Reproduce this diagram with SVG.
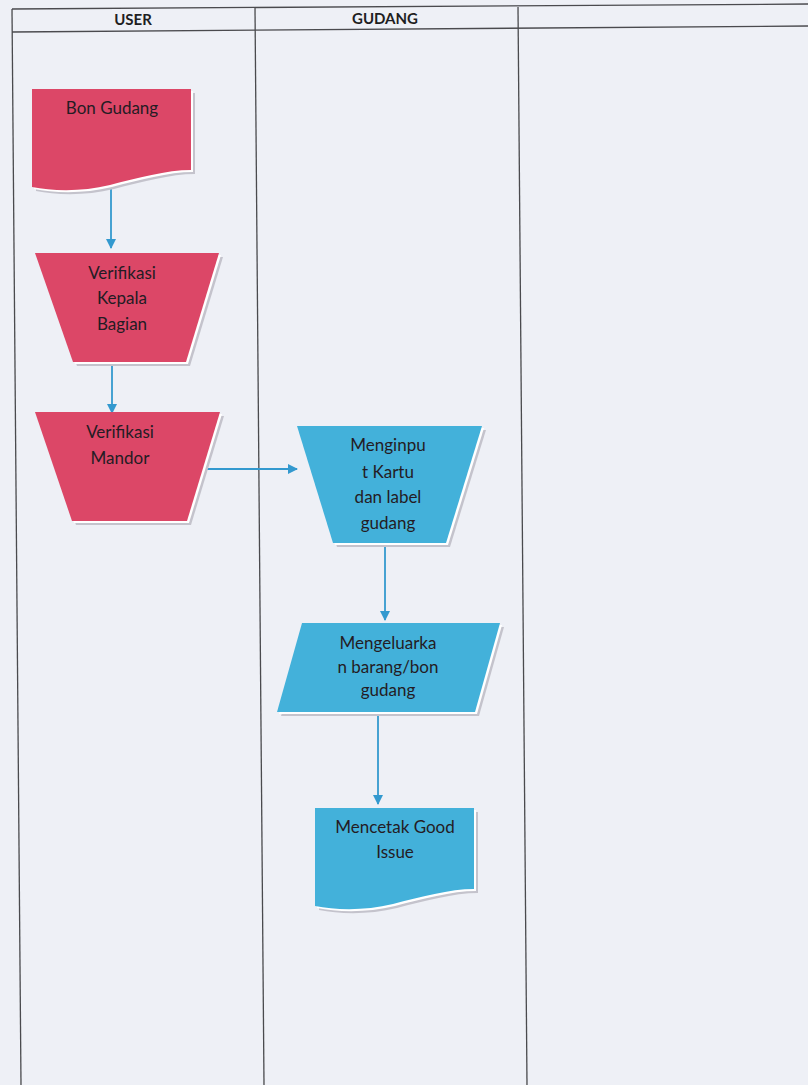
<svg xmlns="http://www.w3.org/2000/svg" width="808" height="1085" viewBox="0 0 808 1085">
  <style>
    .grid { stroke: #4a4a4e; stroke-width: 1.3; fill: none; }
    .hdr { font-family: Lato, "Liberation Sans", sans-serif; font-weight: bold; font-size: 15px; fill: #1e1e22; text-anchor: middle; }
    .lbl { font-family: Lato, "Liberation Sans", sans-serif; font-size: 17px; fill: #241c24; text-anchor: middle; }
    .red { fill: #DC4767; }
    .blue { fill: #43B1DA; }
    .glow { fill: #ffffff; }
    .shadow { fill: #c4c3cc; }
    .conn { stroke: #3399CF; stroke-width: 1.8; fill: none; }
  </style>
  <defs>
    <marker id="arrow" viewBox="0 0 10 10" refX="9" refY="5" markerWidth="10" markerHeight="10" orient="auto" markerUnits="userSpaceOnUse">
      <path d="M0,0 L10,5 L0,10 Z" fill="#3399CF"/>
    </marker>
    <path id="doc" d="M0,0 H159 V81 C135,81 105,89 78,96 C50,103 20,102 0,98 Z"/>
  </defs>

  <!-- page -->
  <rect width="808" height="1085" fill="#EEF0F6"/>

  <!-- swimlane table -->
  <g id="lanes">
    <path class="grid" d="M12,9 L808,4"/>
    <path class="grid" d="M12,32 L808,26"/>
    <path class="grid" d="M12,9 L21,1085"/>
    <path class="grid" d="M255,8 L264,1085"/>
    <path class="grid" d="M518,7 L527,1085"/>
    <text class="hdr" x="133" y="25">USER</text>
    <text class="hdr" x="385" y="24">GUDANG</text>
  </g>

  <!-- connectors -->
  <g id="connectors">
    <path class="conn" d="M111,186 V248" marker-end="url(#arrow)"/>
    <path class="conn" d="M112,366 V413" marker-end="url(#arrow)"/>
    <path class="conn" d="M203,469 H297" marker-end="url(#arrow)"/>
    <path class="conn" d="M385,545 V620" marker-end="url(#arrow)"/>
    <path class="conn" d="M378,714 V804" marker-end="url(#arrow)"/>
  </g>

  <g id="bon-gudang">
    <use href="#doc" class="shadow" transform="translate(36,93)"/>
    <use href="#doc" class="glow" transform="translate(34,91)"/>
    <use href="#doc" class="red" transform="translate(32,89)"/>
    <text class="lbl" x="112" y="114">Bon Gudang</text>
  </g>

  <g id="verifikasi-kepala">
    <polygon class="shadow" points="39,257 223,257 190,366 77,366"/>
    <polygon class="glow" points="37,255 221,255 188,364 75,364"/>
    <polygon class="red" points="35,253 219,253 186,362 73,362"/>
    <text class="lbl" x="122" y="279">Verifikasi</text>
    <text class="lbl" x="122" y="304">Kepala</text>
    <text class="lbl" x="122" y="330">Bagian</text>
  </g>

  <g id="verifikasi-mandor">
    <polygon class="shadow" points="39,416 224,416 191,525 76,525"/>
    <polygon class="glow" points="37,414 222,414 189,523 74,523"/>
    <polygon class="red" points="35,412 220,412 187,521 72,521"/>
    <text class="lbl" x="120" y="438">Verifikasi</text>
    <text class="lbl" x="120" y="464">Mandor</text>
  </g>

  <g id="menginput">
    <polygon class="shadow" points="301,430 486,430 450,547 337,547"/>
    <polygon class="glow" points="299,428 484,428 448,545 335,545"/>
    <polygon class="blue" points="297,426 482,426 446,543 333,543"/>
    <text class="lbl" x="388" y="451">Menginpu</text>
    <text class="lbl" x="388" y="478">t Kartu</text>
    <text class="lbl" x="388" y="503">dan label</text>
    <text class="lbl" x="388" y="529">gudang</text>
  </g>

  <g id="mengeluarkan">
    <polygon class="shadow" points="306,627 504,627 479,716 281,716"/>
    <polygon class="glow" points="304,625 502,625 477,714 279,714"/>
    <polygon class="blue" points="302,623 500,623 475,712 277,712"/>
    <text class="lbl" x="388" y="649">Mengeluarka</text>
    <text class="lbl" x="388" y="673">n barang/bon</text>
    <text class="lbl" x="388" y="696">gudang</text>
  </g>

  <g id="mencetak">
    <use href="#doc" class="shadow" transform="translate(319,812)"/>
    <use href="#doc" class="glow" transform="translate(317,810)"/>
    <use href="#doc" class="blue" transform="translate(315,808)"/>
    <text class="lbl" x="395" y="833">Mencetak Good</text>
    <text class="lbl" x="395" y="858">Issue</text>
  </g>
</svg>
